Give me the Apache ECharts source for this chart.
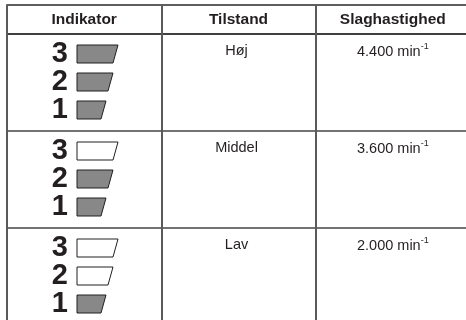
<!DOCTYPE html>
<html>
<head>
<meta charset="utf-8">
<script src="https://cdn.jsdelivr.net/npm/echarts@6/dist/echarts.min.js"></script>
<style>html,body{margin:0;padding:0;background:#fff}#c{width:466px;height:320px}</style>
</head>
<body>
<div id="c"></div>
<script>
const headers = ['Indikator', 'Tilstand', 'Slaghastighed'];
const states = ['Høj', 'Middel', 'Lav'];
const speeds = ['4.400', '3.600', '2.000'];
const speedUnit = 'min';
const speedExponent = '-1';
const activeLevels = [3, 2, 1];
const indicatorLevels = [3, 2, 1];

const FONT = "'Liberation Sans', Arial, Helvetica, sans-serif";
const INK = '#231f20';

const indicatorData = [];
states.forEach((s, r) => {
  indicatorLevels.forEach(L => {
    indicatorData.push([0, r, L, L <= activeLevels[r] ? 1 : 0]);
  });
});
const stateData = states.map((s, r) => [1, r, s]);
const speedData = speeds.map((s, r) => [2, r, s]);
const headerData = headers.map((h, i) => [i, 0, h]);

function cellBox(api, col, row) {
  const c = api.coord([col, row]);
  const s = api.size([1, 1]);
  return { left: c[0] - s[0] / 2, top: c[1] - s[1] / 2, w: s[0], h: s[1], cx: c[0], cy: c[1] };
}

const barWidth = { 3: 41, 2: 36, 1: 29 };

const chart = echarts.init(document.getElementById('c'), null, { renderer: 'canvas' });
chart.setOption({
  animation: false,
  grid: [
    { left: 7, top: 5, width: 463, height: 29, show: true, borderColor: '#2a2a2a', borderWidth: 1.5, backgroundColor: 'transparent', outerBoundsMode: 'none', containLabel: false },
    { left: 7, top: 34, width: 463, height: 291, show: true, borderColor: '#2a2a2a', borderWidth: 1.5, backgroundColor: 'transparent', outerBoundsMode: 'none', containLabel: false }
  ],
  xAxis: [
    { gridIndex: 0, type: 'category', data: headers, axisLine: { show: false }, axisTick: { show: false }, axisLabel: { show: false },
      splitLine: { show: true, interval: 0, lineStyle: { color: '#5a5a5a', width: 2 } } },
    { gridIndex: 1, type: 'category', data: headers, axisLine: { show: false }, axisTick: { show: false }, axisLabel: { show: false },
      splitLine: { show: true, interval: 0, lineStyle: { color: '#5a5a5a', width: 2 } } }
  ],
  yAxis: [
    { gridIndex: 0, type: 'category', data: ['header'], inverse: true, axisLine: { show: false }, axisTick: { show: false }, axisLabel: { show: false }, splitLine: { show: false } },
    { gridIndex: 1, type: 'category', data: states, inverse: true, axisLine: { show: false }, axisTick: { show: false }, axisLabel: { show: false },
      splitLine: { show: true, interval: 0, lineStyle: { color: '#444', width: 1.5 } } }
  ],
  series: [
    {
      type: 'custom', xAxisIndex: 0, yAxisIndex: 0, data: headerData,
      renderItem: function (params, api) {
        const b = cellBox(api, api.value(0), 0);
        return { type: 'text', style: { text: headers[params.dataIndex], x: b.cx, y: b.cy, align: 'center', verticalAlign: 'middle',
          font: 'bold 15.5px ' + FONT, fill: INK } };
      }
    },
    {
      type: 'custom', xAxisIndex: 1, yAxisIndex: 1, data: stateData,
      renderItem: function (params, api) {
        const b = cellBox(api, 1, api.value(1));
        return { type: 'text', style: { text: states[params.dataIndex], x: b.cx - 2, y: b.top + 9, align: 'center', verticalAlign: 'top',
          font: '14.5px ' + FONT, fill: INK } };
      }
    },
    {
      type: 'custom', xAxisIndex: 1, yAxisIndex: 1, data: speedData,
      renderItem: function (params, api) {
        const b = cellBox(api, 2, api.value(1));
        return { type: 'text', style: {
          text: '{n|' + speeds[params.dataIndex] + ' ' + speedUnit + '}{s|' + speedExponent + '}',
          x: b.cx, y: b.top + 8, align: 'center', verticalAlign: 'top', fill: INK,
          rich: {
            n: { fontSize: 14.5, fontFamily: FONT, fill: INK, lineHeight: 17, verticalAlign: 'bottom' },
            s: { fontSize: 9, fontFamily: FONT, fill: INK, lineHeight: 10, verticalAlign: 'top' }
          } } };
      }
    },
    {
      type: 'custom', xAxisIndex: 1, yAxisIndex: 1, data: indicatorData,
      renderItem: function (params, api) {
        const row = api.value(1), L = api.value(2), on = api.value(3);
        const b = cellBox(api, 0, row);
        const k = 3 - L;
        const dTop = b.top + 10 + 28 * k;
        const bx = b.left + 70, by = dTop + 1, bw = barWidth[L], bh = 18;
        return { type: 'group', children: [
          { type: 'text', style: { text: String(L), x: b.left + 61, y: dTop + 10, align: 'right', verticalAlign: 'middle',
            font: 'bold 29px ' + FONT, fill: INK } },
          { type: 'polygon', shape: { points: [[bx, by], [bx + bw, by], [bx + bw - 5, by + bh], [bx, by + bh]] },
            style: { fill: on ? '#888888' : '#ffffff', stroke: '#231f20', lineWidth: 1 } }
        ] };
      }
    }
  ]
});
</script>
</body>
</html>
